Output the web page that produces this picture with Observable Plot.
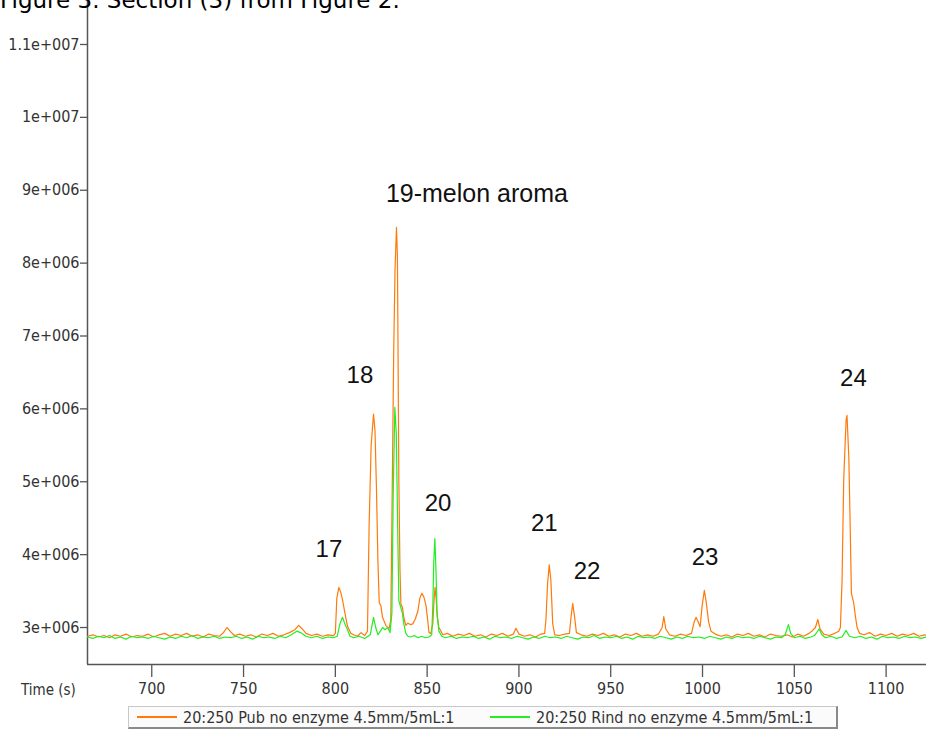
<!DOCTYPE html>
<html>
<head>
<meta charset="utf-8">
<script src="https://cdn.jsdelivr.net/npm/d3@7"></script>
<script src="https://cdn.jsdelivr.net/npm/@observablehq/plot@0.6"></script>
<style>
  html, body { margin: 0; padding: 0; background: #fff; width: 926px; height: 731px; overflow: hidden; }
  #wrap { position: relative; width: 926px; height: 731px; }
  #title { position: absolute; left: 0; top: -11px; font-family: "DejaVu Sans", sans-serif; font-size: 23px; line-height: 23px; color: #000; white-space: nowrap; z-index: 2; }
  #chart { position: absolute; left: 0; top: 0; }
  #xlabel { position: absolute; left: 21px; top: 681px; font-family: "DejaVu Sans Condensed", sans-serif; font-size: 15px; color: #333; }
  #legend { position: absolute; left: 128px; top: 706px; width: 707px; height: 20px; background: #fbfbfb;
            border: 1px solid #c8c8c8; border-right: 2px solid #8a8a8a; border-bottom: 2px solid #8a8a8a;
            font-family: "DejaVu Sans Condensed", sans-serif; font-size: 16px; color: #333; }
  .item { position: absolute; top: 1px; display: flex; align-items: center; height: 18px; white-space: nowrap; }
  .swatch { display: inline-block; width: 40px; height: 2px; margin-right: 6px; }
</style>
</head>
<body>
<div id="wrap">
  <div id="title">Figure 3. Section (3) from Figure 2.</div>
  <div id="chart"></div>
  <div id="xlabel">Time (s)</div>
  <div id="legend"></div>
</div>
<script>
// ---- data (signal in units of 1e6 counts) ----
const seriesNames = ["20:250 Pub no enzyme 4.5mm/5mL:1", "20:250 Rind no enzyme 4.5mm/5mL:1"];
const seriesColors = ["#ff7a0a", "#22ee22"];

const pub = [
[665,2.88],[668,2.90],[671,2.87],[674,2.89],[677,2.86],[680,2.90],[683,2.88],[686,2.91],[689,2.87],[692,2.89],
[695,2.88],[698,2.91],[701,2.87],[704,2.90],[707,2.92],[710,2.88],[713,2.91],[716,2.89],[719,2.92],[722,2.88],
[725,2.90],[728,2.87],[731,2.91],[734,2.89],[737,2.88],[739,2.93],[741,3.00],[743,2.94],[745,2.89],[748,2.91],
[751,2.88],[754,2.90],[757,2.87],[760,2.91],[763,2.89],[766,2.92],[769,2.88],[772,2.90],[775,2.93],[778,2.97],
[780,3.03],[782,2.98],[784,2.92],[787,2.89],[790,2.91],[793,2.88],[796,2.90],[799,2.89],[800,2.92],[800.8,3.40],
[801.9,3.55],[803,3.48],[803.9,3.38],[805.2,3.20],[806.6,3.02],[808.4,2.92],[810,2.90],[812,2.88],[814,2.93],[816,2.89],
[817.5,2.95],[818.4,4.40],[819.5,5.50],[820.8,5.93],[821.6,5.70],[822.4,4.90],[823.2,3.90],[823.9,3.34],[824.8,3.30],[825.7,3.14],
[827.5,3.03],[829.2,2.98],[830.2,3.10],[830.8,4.45],[831.8,6.80],[832.5,7.90],[833.3,8.49],[833.8,8.10],[834.1,7.00],[834.6,5.00],
[835.2,3.80],[835.7,3.32],[836.5,3.28],[837.3,3.14],[838.4,3.03],[839.5,3.06],[840.8,3.04],[842.2,3.05],[843.6,3.12],[845,3.23],
[846,3.40],[847.1,3.47],[848.2,3.42],[849.4,3.30],[850.4,3.08],[851,2.93],[852,2.92],[853.1,3.05],[853.7,3.35],[854.3,3.55],
[854.9,3.40],[855.5,3.15],[856.4,3.00],[858.6,2.90],[861,2.92],[864,2.88],[867,2.91],[870,2.89],[873,2.92],[876,2.88],
[879,2.90],[882,2.87],[885,2.91],[888,2.89],[891,2.92],[894,2.88],[897,2.91],[898.4,2.99],[900,2.91],[903,2.88],
[906,2.90],[909,2.87],[912,2.91],[914,2.92],[914.7,3.10],[915.6,3.60],[916.5,3.86],[917.4,3.65],[918.4,3.05],[919.5,2.90],
[922,2.89],[925,2.91],[927.5,2.92],[928.4,3.15],[929.3,3.33],[930.3,3.15],[931.3,2.93],[934,2.90],[937,2.88],[940,2.91],
[943,2.89],[946,2.92],[949,2.88],[952,2.90],[955,2.87],[958,2.91],[961,2.89],[964,2.92],[967,2.88],[970,2.90],
[973,2.88],[976,2.91],[978,3.00],[978.9,3.15],[980,2.98],[982,2.90],[985,2.88],[988,2.91],[991,2.89],[994,2.92],
[995.5,3.08],[996.5,3.14],[997.6,3.08],[998.7,3.01],[999.8,3.30],[1001,3.51],[1002,3.35],[1003.3,3.08],[1004.6,2.95],[1007,2.91],
[1010,2.88],[1013,2.90],[1016,2.87],[1019,2.91],[1022,2.89],[1025,2.92],[1028,2.88],[1031,2.90],[1034,2.87],[1037,2.91],
[1040,2.89],[1043,2.88],[1046,2.90],[1049,2.87],[1052,2.91],[1055,2.88],[1058,2.92],[1060,2.96],[1061.5,3.00],[1062.8,3.11],
[1064,2.98],[1066,2.91],[1069,2.89],[1072,2.92],[1074.2,2.95],[1075.1,3.00],[1076,3.64],[1076.9,5.02],[1078.2,5.85],[1078.7,5.91],
[1079.7,5.33],[1080.4,4.43],[1081.1,3.47],[1082.4,3.33],[1083.3,3.15],[1084.2,3.00],[1085.5,2.92],[1088,2.90],[1091,2.93],[1094,2.88],
[1097,2.91],[1100,2.89],[1103,2.92],[1106,2.88],[1109,2.91],[1112,2.89],[1115,2.92],[1118,2.88],[1121,2.90],[1122,2.89]
];

const rind = [
[665,2.87],[668,2.85],[671,2.88],[674,2.86],[677,2.89],[680,2.85],[683,2.87],[686,2.84],[689,2.88],[692,2.86],
[695,2.87],[698,2.85],[701,2.88],[704,2.86],[707,2.84],[710,2.87],[713,2.85],[716,2.88],[719,2.86],[722,2.89],
[725,2.85],[728,2.87],[731,2.86],[734,2.88],[737,2.85],[740,2.87],[743,2.86],[746,2.88],[749,2.85],[752,2.87],
[755,2.84],[758,2.88],[761,2.86],[764,2.87],[767,2.85],[770,2.88],[773,2.86],[776,2.90],[779,2.95],[781,2.93],
[784,2.88],[787,2.86],[790,2.88],[793,2.85],[796,2.87],[799,2.86],[801,2.88],[802.5,3.05],[803.9,3.14],[805.2,3.05],
[806.6,2.97],[808,2.88],[810,2.86],[813,2.88],[816,2.85],[819,2.90],[820.8,3.14],[822,3.00],[823.2,2.90],[824.5,2.95],
[825.7,3.00],[827,2.97],[828.5,3.00],[829.8,2.93],[830.8,3.20],[831.5,4.80],[832.4,6.02],[833.2,5.66],[834,4.29],[834.6,3.37],
[835.7,3.27],[836.5,3.20],[837.3,3.05],[838.4,2.92],[839.5,2.88],[841,2.87],[843,2.89],[845,2.86],[847,2.88],[849,2.86],
[851,2.87],[852.5,2.90],[853.1,3.30],[853.6,3.90],[854.2,4.22],[854.8,3.80],[855.4,3.20],[856.4,2.95],[858,2.88],[860,2.86],
[863,2.88],[866,2.85],[869,2.87],[872,2.86],[875,2.88],[878,2.85],[881,2.87],[884,2.84],[887,2.88],[890,2.86],
[893,2.87],[896,2.85],[899,2.88],[902,2.86],[905,2.84],[908,2.87],[911,2.85],[914,2.88],[917,2.86],[920,2.87],
[923,2.85],[926,2.88],[929,2.86],[932,2.84],[935,2.87],[938,2.86],[941,2.89],[944,2.85],[947,2.87],[950,2.86],
[953,2.88],[956,2.85],[959,2.87],[962,2.84],[965,2.88],[968,2.86],[971,2.87],[974,2.85],[977,2.88],[980,2.86],
[983,2.84],[986,2.87],[989,2.85],[992,2.88],[995,2.86],[998,2.87],[1001,2.85],[1004,2.88],[1007,2.86],[1010,2.84],
[1013,2.87],[1016,2.85],[1019,2.88],[1022,2.86],[1025,2.87],[1028,2.85],[1031,2.88],[1034,2.86],[1037,2.84],[1040,2.87],
[1043,2.86],[1045,2.90],[1046.8,3.04],[1048,2.92],[1050,2.86],[1053,2.88],[1056,2.85],[1059,2.87],[1061,2.89],[1063.5,2.98],
[1065,2.90],[1067,2.86],[1070,2.88],[1073,2.85],[1076,2.87],[1078.2,2.96],[1080,2.88],[1083,2.86],[1086,2.88],[1089,2.85],
[1092,2.87],[1095,2.84],[1098,2.88],[1101,2.86],[1104,2.87],[1107,2.85],[1110,2.88],[1113,2.86],[1116,2.87],[1119,2.85],[1122,2.87]
];

const peakLabels = ["17", "18", "19-melon aroma", "20", "21", "22", "23", "24"];
const peakLabelTime = [796.5, 813.4, 877.1, 855.9, 913.8, 937.1, 1001.4, 1082.2];
const peakLabelSignal = [4.07, 6.46, 8.95, 4.70, 4.43, 3.77, 3.97, 6.42];

const xTicks = [700, 750, 800, 850, 900, 950, 1000, 1050, 1100];
const yTicks = [3, 4, 5, 6, 7, 8, 9, 10, 11];
const yTickLabels = ["3e+006", "4e+006", "5e+006", "6e+006", "7e+006", "8e+006", "9e+006", "1e+007", "1.1e+007"];
const xDomain = [665, 1122];
const yDomain = [2.4925, 11.6036];

// ---- chart ----
const labelData = peakLabels.map((t, i) => ({label: t, time: peakLabelTime[i], signal: peakLabelSignal[i]}));

const chart = Plot.plot({
  width: 926,
  height: 700,
  marginLeft: 87,
  marginRight: 0,
  marginTop: 0,
  marginBottom: 36,
  x: {domain: xDomain},
  y: {domain: yDomain},
  style: {fontFamily: "'DejaVu Sans Condensed', sans-serif", fontSize: "16px", color: "#333", background: "transparent", overflow: "visible"},
  marks: [
    Plot.axisY(yTicks, {tickSize: 7, tickPadding: 1, stroke: "#555", strokeWidth: 1.3, fill: "#333", fontSize: 16,
      tickFormat: d => yTickLabels[yTicks.indexOf(d)], label: null}),
    Plot.axisX(xTicks, {tickSize: 13, tickPadding: 5, stroke: "#555", strokeWidth: 1.3, fill: "#333", fontSize: 16,
      tickFormat: d => String(d), label: null}),
    Plot.ruleX([xDomain[0]], {stroke: "#555", strokeWidth: 1.5}),
    Plot.ruleY([yDomain[0]], {stroke: "#555", strokeWidth: 1.5}),
    Plot.line(pub, {x: d => d[0], y: d => d[1], stroke: seriesColors[0], strokeWidth: 1.2}),
    Plot.line(rind, {x: d => d[0], y: d => d[1], stroke: seriesColors[1], strokeWidth: 1.2}),
    Plot.text(labelData, {x: "time", y: "signal", text: "label", fill: "#111",
      fontFamily: "'Liberation Sans', Arial, sans-serif", fontSize: d => d.label.length > 2 ? 25 : 24})
  ]
});
document.getElementById("chart").appendChild(chart);

// ---- legend ----
const legend = document.getElementById("legend");
const itemLeft = [8, 361];
seriesNames.forEach((name, i) => {
  const item = document.createElement("div");
  item.className = "item";
  item.style.left = itemLeft[i] + "px";
  const sw = document.createElement("span");
  sw.className = "swatch";
  sw.style.background = seriesColors[i];
  item.appendChild(sw);
  const tx = document.createElement("span");
  tx.textContent = name;
  item.appendChild(tx);
  legend.appendChild(item);
});
</script>
</body>
</html>
